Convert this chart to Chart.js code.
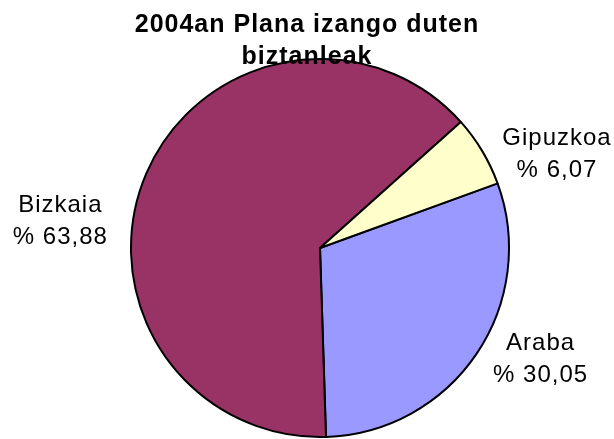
<!DOCTYPE html>
<html>
<head>
<meta charset="utf-8">
<script src="https://cdn.jsdelivr.net/npm/chart.js@4"></script>
<style>
  html, body { margin: 0; padding: 0; background: #fff; }
  #wrap { width: 614px; height: 439px; }
</style>
</head>
<body>
<div id="wrap"><canvas id="pieChart"></canvas></div>
<script>
const categories = ['Araba', 'Bizkaia', 'Gipuzkoa'];
const shares = [30.05, 63.88, 6.07];
const sliceColors = ['#9999FF', '#993366', '#FFFFCC'];
const titleLines = ['2004an Plana izango duten', 'biztanleak'];

const fmt = v => '% ' + v.toFixed(2).replace('.', ',');

// title and outside labels are drawn on top of the pie, like the original
const overlay = {
  id: 'overlay',
  afterDatasetsDraw(chart, args, opts) {
    const ctx = chart.ctx;
    ctx.save();
    ctx.fillStyle = '#000';
    ctx.textBaseline = 'alphabetic';
    ctx.letterSpacing = '1px';

    ctx.font = 'bold 25px "Liberation Sans", Arial, sans-serif';
    ctx.textAlign = 'center';
    titleLines.forEach((t, i) => ctx.fillText(t, 307, 32 + i * 32));

    ctx.font = '24px "Liberation Sans", Arial, sans-serif';
    const meta = chart.getDatasetMeta(0);
    meta.data.forEach((arc, i) => {
      const p = arc.getProps(['x', 'y', 'startAngle', 'endAngle', 'outerRadius'], true);
      const mid = (p.startAngle + p.endAngle) / 2;
      const lines = [categories[i], fmt(shares[i])];
      const w = Math.max(...lines.map(l => ctx.measureText(l).width));
      const d = p.outerRadius + opts.gap;
      const nudge = opts.nudge[i] || [0, 0];
      const cx = p.x + d * Math.cos(mid) + Math.sign(Math.cos(mid)) * w / 2 + nudge[0];
      const cy = p.y + d * Math.sin(mid) + nudge[1];
      ctx.fillText(lines[0], cx, cy - 7);
      ctx.fillText(lines[1], cx, cy + 25);
    });
    ctx.restore();
  }
};

new Chart(document.getElementById('pieChart'), {
  type: 'pie',
  data: {
    labels: categories,
    datasets: [{
      data: shares,
      backgroundColor: sliceColors,
      borderColor: '#000',
      borderWidth: 2
    }]
  },
  options: {
    responsive: true,
    maintainAspectRatio: false,
    animation: false,
    rotation: 70,
    layout: { padding: { top: 58, bottom: 1, left: 130, right: 104 } },
    plugins: {
      legend: { display: false },
      title: { display: false },
      tooltip: { enabled: false },
      overlay: { gap: 20, nudge: [[0, -8], [-20, 53], [3, 11]] }
    }
  },
  plugins: [overlay]
});
</script>
</body>
</html>
